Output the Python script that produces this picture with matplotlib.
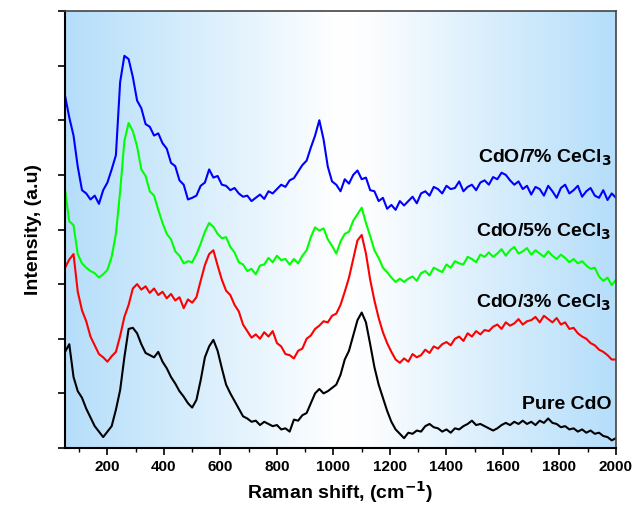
import numpy as np
import matplotlib.pyplot as plt
from matplotlib.colors import LinearSegmentedColormap
from matplotlib.ticker import MultipleLocator

plt.rcParams['font.family'] = ['Liberation Sans', 'DejaVu Sans']
plt.rcParams['font.weight'] = 'bold'
plt.rcParams['mathtext.default'] = 'bf'

# Raman shift grid (cm-1), every 15 cm-1 from 50 to 2000
shift = list(range(50, 2001, 15))

# intensities (a.u., stacked with vertical offsets)
inten_7 = [6.45, 6.05, 5.72, 5.15, 4.72, 4.66, 4.55, 4.62, 4.47, 4.72,
           4.86, 5.10, 5.36, 6.70, 7.18, 7.12, 6.79, 6.36, 6.22, 5.93,
           5.88, 5.72, 5.76, 5.58, 5.48, 5.22, 5.16, 4.90, 4.82, 4.55,
           4.58, 4.62, 4.80, 4.86, 5.10, 4.95, 4.98, 4.82, 4.80, 4.72,
           4.76, 4.66, 4.60, 4.62, 4.52, 4.58, 4.64, 4.56, 4.70, 4.66,
           4.74, 4.82, 4.78, 4.90, 4.94, 5.06, 5.18, 5.26, 5.50, 5.72,
           6.00, 5.65, 5.15, 4.88, 4.82, 4.70, 4.92, 4.84, 5.00, 5.08,
           4.92, 4.95, 4.72, 4.70, 4.52, 4.58, 4.38, 4.45, 4.36, 4.52,
           4.44, 4.52, 4.60, 4.48, 4.66, 4.70, 4.62, 4.78, 4.74, 4.66,
           4.80, 4.74, 4.76, 4.88, 4.70, 4.78, 4.82, 4.72, 4.86, 4.90,
           4.82, 4.96, 4.92, 5.04, 5.00, 4.90, 4.82, 4.88, 4.74, 4.80,
           4.64, 4.78, 4.74, 4.62, 4.80, 4.70, 4.58, 4.76, 4.82, 4.66,
           4.72, 4.80, 4.60, 4.70, 4.76, 4.62, 4.58, 4.72, 4.54, 4.66,
           4.58]

inten_5 = [4.72, 4.15, 4.08, 3.55, 3.38, 3.30, 3.24, 3.20, 3.12, 3.18,
           3.26, 3.50, 3.92, 4.70, 5.62, 5.95, 5.80, 5.52, 5.10, 4.98,
           4.70, 4.62, 4.36, 4.12, 3.92, 3.82, 3.60, 3.52, 3.38, 3.42,
           3.40, 3.55, 3.74, 3.96, 4.12, 4.05, 3.92, 3.84, 3.86, 3.68,
           3.58, 3.40, 3.36, 3.24, 3.28, 3.18, 3.34, 3.36, 3.48, 3.40,
           3.52, 3.44, 3.46, 3.36, 3.46, 3.38, 3.52, 3.62, 3.86, 4.04,
           3.98, 4.02, 3.82, 3.70, 3.56, 3.78, 3.92, 3.96, 4.16, 4.28,
           4.40, 4.12, 3.88, 3.62, 3.48, 3.30, 3.22, 3.12, 3.04, 3.10,
           3.04, 3.10, 3.14, 3.06, 3.20, 3.24, 3.16, 3.30, 3.26, 3.22,
           3.36, 3.30, 3.42, 3.38, 3.36, 3.50, 3.46, 3.40, 3.54, 3.50,
           3.58, 3.50, 3.56, 3.64, 3.52, 3.62, 3.68, 3.56, 3.60, 3.66,
           3.54, 3.62, 3.56, 3.50, 3.60, 3.52, 3.46, 3.54, 3.48, 3.40,
           3.46, 3.38, 3.42, 3.34, 3.28, 3.30, 3.14, 3.06, 3.12, 2.98,
           3.08]

inten_3 = [3.30, 3.45, 3.55, 2.86, 2.52, 2.32, 2.04, 1.88, 1.72, 1.66,
           1.58, 1.68, 1.76, 2.05, 2.40, 2.62, 2.92, 3.00, 2.90, 2.96,
           2.84, 2.92, 2.80, 2.86, 2.74, 2.82, 2.70, 2.76, 2.56, 2.72,
           2.66, 2.76, 3.06, 3.35, 3.55, 3.62, 3.34, 3.08, 2.88, 2.80,
           2.62, 2.50, 2.26, 2.14, 2.02, 2.08, 2.00, 2.12, 2.04, 2.14,
           1.92, 1.86, 1.72, 1.70, 1.64, 1.78, 1.82, 2.00, 2.06, 2.18,
           2.24, 2.32, 2.30, 2.42, 2.46, 2.62, 2.86, 3.12, 3.46, 3.80,
           3.90, 3.56, 3.08, 2.70, 2.38, 2.12, 1.92, 1.76, 1.62, 1.56,
           1.64, 1.58, 1.72, 1.66, 1.70, 1.80, 1.74, 1.86, 1.82, 1.90,
           1.94, 1.88, 2.00, 2.04, 1.96, 2.10, 2.04, 2.14, 2.08, 2.16,
           2.14, 2.22, 2.26, 2.18, 2.30, 2.24, 2.28, 2.36, 2.26, 2.32,
           2.34, 2.40, 2.30, 2.42, 2.36, 2.30, 2.38, 2.26, 2.30, 2.18,
           2.20, 2.10, 2.04, 2.00, 1.92, 1.88, 1.80, 1.76, 1.70, 1.62,
           1.62]

inten_0 = [1.76, 1.90, 1.30, 1.04, 0.92, 0.72, 0.56, 0.40, 0.30, 0.20,
           0.30, 0.40, 0.70, 1.06, 1.66, 2.18, 2.20, 2.10, 1.90, 1.74,
           1.70, 1.66, 1.76, 1.58, 1.46, 1.30, 1.18, 1.04, 0.94, 0.82,
           0.74, 0.88, 1.24, 1.66, 1.86, 1.98, 1.78, 1.46, 1.16, 1.00,
           0.86, 0.72, 0.58, 0.54, 0.48, 0.50, 0.42, 0.48, 0.44, 0.40,
           0.42, 0.34, 0.36, 0.30, 0.52, 0.50, 0.60, 0.64, 0.82, 1.00,
           1.08, 1.00, 1.04, 1.10, 1.16, 1.34, 1.62, 1.78, 2.06, 2.34,
           2.48, 2.30, 1.90, 1.48, 1.16, 0.92, 0.68, 0.48, 0.34, 0.26,
           0.18, 0.28, 0.26, 0.32, 0.30, 0.40, 0.44, 0.38, 0.36, 0.30,
           0.34, 0.28, 0.36, 0.34, 0.40, 0.44, 0.50, 0.42, 0.44, 0.40,
           0.36, 0.32, 0.36, 0.42, 0.46, 0.42, 0.48, 0.44, 0.50, 0.44,
           0.48, 0.42, 0.50, 0.46, 0.54, 0.46, 0.44, 0.38, 0.40, 0.34,
           0.36, 0.30, 0.34, 0.28, 0.32, 0.26, 0.28, 0.22, 0.20, 0.14,
           0.18]

labels = ['CdO/7% CeCl$_3$', 'CdO/5% CeCl$_3$', 'CdO/3% CeCl$_3$', 'Pure CdO']
colors = ['#0000ff', '#00ff00', '#ff0000', '#000000']
label_y = [5.22, 3.86, 2.56, 0.71]

fig = plt.figure(figsize=(6.44, 5.12), dpi=100)
ax = fig.add_axes([0.101, 0.125, 0.8555, 0.8535])

# blue - white - blue backdrop
grad = LinearSegmentedColormap.from_list(
    'bg', [(0.0, '#b5defa'), (0.5, '#ffffff'), (0.56, '#fbfdff'), (1.0, '#b5defa')])
ax.imshow(np.linspace(0, 1, 256).reshape(1, -1), cmap=grad, aspect='auto',
          extent=[0, 1, 0, 1], transform=ax.transAxes, zorder=0)

for y, c, name, ly in zip([inten_7, inten_5, inten_3, inten_0], colors, labels, label_y):
    ax.plot(shift, y, color=c, lw=1.5, zorder=2)
    ax.text(1985, ly, name, color='black', fontsize=14, fontweight='bold',
            ha='right', va='baseline', zorder=3)

ax.set_xlim(50, 2000)
ax.set_ylim(0, 8)
ax.xaxis.set_major_locator(MultipleLocator(200))
ax.xaxis.set_minor_locator(MultipleLocator(100))
ax.yaxis.set_major_locator(MultipleLocator(1))
ax.set_yticklabels([])
ax.tick_params(axis='x', which='major', direction='out', length=5, width=1.2, labelsize=11)
ax.tick_params(axis='x', which='minor', direction='out', length=3, width=1.0)
ax.tick_params(axis='y', which='major', direction='out', length=5, width=1.2)
ax.tick_params(top=False, right=False)

for s in ['left', 'bottom']:
    ax.spines[s].set_linewidth(1.5)
    ax.spines[s].set_color('black')
for s in ['top', 'right']:
    ax.spines[s].set_linewidth(1.2)
    ax.spines[s].set_color('#444444')

ax.set_xlabel('Raman shift, (cm$^{-1}$)', fontsize=14, fontweight='bold', labelpad=4)
ax.set_ylabel('Intensity, (a.u)', fontsize=14, fontweight='bold', labelpad=8)

fig.savefig('out.png', dpi=100)
